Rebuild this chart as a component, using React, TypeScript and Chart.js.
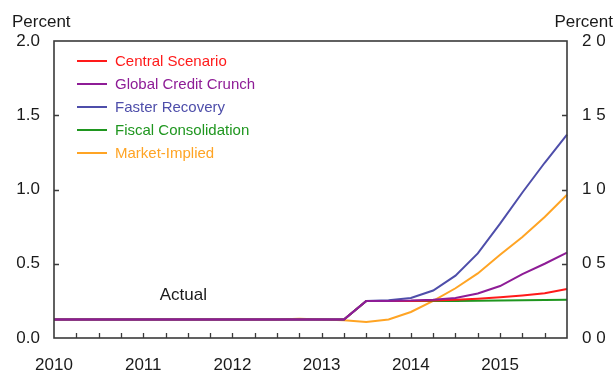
import React, { useEffect, useRef } from "react";
import { Chart, registerables } from "chart.js";

Chart.register(...registerables);

const quarters = [
  "2010Q1", "2010Q2", "2010Q3", "2010Q4",
  "2011Q1", "2011Q2", "2011Q3", "2011Q4",
  "2012Q1", "2012Q2", "2012Q3", "2012Q4",
  "2013Q1", "2013Q2", "2013Q3", "2013Q4",
  "2014Q1", "2014Q2", "2014Q3", "2014Q4",
  "2015Q1", "2015Q2", "2015Q3", "2015Q4",
];

const centralScenario = [
  0.125, 0.125, 0.125, 0.125, 0.125, 0.125, 0.125, 0.125, 0.125, 0.125, 0.125, 0.125, 0.125, 0.125,
  0.25, 0.25, 0.25, 0.252, 0.258, 0.265, 0.275, 0.287, 0.302, 0.33,
];
const globalCreditCrunch = [
  0.125, 0.125, 0.125, 0.125, 0.125, 0.125, 0.125, 0.125, 0.125, 0.125, 0.125, 0.125, 0.125, 0.125,
  0.25, 0.25, 0.252, 0.258, 0.27, 0.3, 0.35, 0.43, 0.5, 0.575,
];
const fasterRecovery = [
  0.125, 0.125, 0.125, 0.125, 0.125, 0.125, 0.125, 0.125, 0.125, 0.125, 0.125, 0.125, 0.125, 0.125,
  0.25, 0.255, 0.27, 0.32, 0.42, 0.57, 0.77, 0.98, 1.18, 1.37,
];
const fiscalConsolidation = [
  0.125, 0.125, 0.125, 0.125, 0.125, 0.125, 0.125, 0.125, 0.125, 0.125, 0.125, 0.125, 0.125, 0.125,
  0.25, 0.25, 0.25, 0.25, 0.25, 0.251, 0.252, 0.254, 0.256, 0.258,
];
const marketImplied = [
  0.125, 0.125, 0.125, 0.125, 0.125, 0.125, 0.125, 0.125, 0.125, 0.125, 0.125, 0.13, 0.125, 0.12,
  0.108, 0.125, 0.175, 0.25, 0.335, 0.435, 0.56, 0.68, 0.815, 0.965,
];

const seriesNames = [
  "Central Scenario",
  "Global Credit Crunch",
  "Faster Recovery",
  "Fiscal Consolidation",
  "Market-Implied",
];
const seriesColors = ["#ff1a1a", "#8e1c96", "#4e4eaa", "#1f961f", "#ffa424"];
const seriesOrder = [2, 0, 1, 3, 4];
const yTicks = [0, 0.5, 1.0, 1.5, 2.0];

const FONT = "'Liberation Sans', Arial, sans-serif";
const TEXT = "#1a1a1a";
const AXIS = "#3a3a3a";

const decorPlugin = {
  id: "decor",
  afterDatasetsDraw(chart: any) {
    const { ctx, chartArea, scales } = chart;
    const { left, right, top, bottom } = chartArea;
    ctx.save();
    // frame
    ctx.strokeStyle = AXIS;
    ctx.lineWidth = 1.6;
    ctx.strokeRect(left, top, right - left, bottom - top);
    // inner ticks
    ctx.lineWidth = 1.3;
    ctx.beginPath();
    for (let i = 1; i < quarters.length - 1; i++) {
      const x = Math.round(scales.x.getPixelForValue(i)) + 0.5;
      ctx.moveTo(x, bottom);
      ctx.lineTo(x, bottom - 5);
    }
    for (const v of yTicks.slice(1, -1)) {
      const y = Math.round(scales.y.getPixelForValue(v)) + 0.5;
      ctx.moveTo(left, y);
      ctx.lineTo(left + 5, y);
      ctx.moveTo(right, y);
      ctx.lineTo(right - 5, y);
    }
    ctx.stroke();

    // Percent labels
    ctx.fillStyle = TEXT;
    ctx.font = `17px ${FONT}`;
    ctx.textBaseline = "alphabetic";
    ctx.textAlign = "left";
    ctx.fillText("Percent", 12, 27);
    ctx.textAlign = "right";
    ctx.fillText("Percent", 613, 27);

    // Actual label
    ctx.textAlign = "center";
    ctx.textBaseline = "middle";
    ctx.fillText("Actual", scales.x.getPixelForValue(5.8), scales.y.getPixelForValue(0.285));

    // Legend
    ctx.font = `15px ${FONT}`;
    ctx.textAlign = "left";
    chart.data.datasets.forEach((ds: any, i: number) => {
      const y = 61 + i * 23;
      ctx.strokeStyle = ds.borderColor;
      ctx.lineWidth = 2;
      ctx.beginPath();
      ctx.moveTo(77, y);
      ctx.lineTo(107, y);
      ctx.stroke();
      ctx.fillStyle = ds.borderColor;
      ctx.fillText(ds.label, 115, y + 1);
    });
    ctx.restore();
  },
};

export default function App() {
  const ref = useRef<HTMLCanvasElement | null>(null);
  useEffect(() => {
    if (!ref.current) return;
    const series = [centralScenario, globalCreditCrunch, fasterRecovery, fiscalConsolidation, marketImplied];
    const chart = new Chart(ref.current, {
      type: "line",
      data: {
        labels: quarters,
        datasets: series.map((d, i) => ({
          label: seriesNames[i],
          data: d,
          borderColor: seriesColors[i],
          backgroundColor: seriesColors[i],
          borderWidth: 2,
          pointRadius: 0,
          tension: 0,
          fill: false,
          order: seriesOrder[i],
        })),
      },
      options: {
        responsive: false,
        animation: false,
        layout: { padding: { top: 41, left: 0, right: 0, bottom: 0 } },
        plugins: { legend: { display: false }, tooltip: { enabled: false } },
        scales: {
          x: {
            type: "category",
            offset: false,
            grid: { display: false, drawTicks: false },
            border: { display: false },
            ticks: {
              autoSkip: false,
              maxRotation: 0,
              padding: 17,
              color: TEXT,
              font: { family: FONT, size: 17 },
              callback: (_v: any, idx: number) => (idx % 4 === 0 ? quarters[idx].slice(0, 4) : ""),
            },
            afterFit: (s: any) => { s.height = 40; },
          },
          y: {
            position: "left",
            min: 0,
            max: 2,
            grid: { display: false, drawTicks: false },
            border: { display: false },
            ticks: {
              stepSize: 0.5,
              padding: 14,
              color: TEXT,
              font: { family: FONT, size: 17 },
              callback: (v: any) => Number(v).toFixed(1),
            },
            afterFit: (s: any) => { s.width = 54; },
          },
          y2: {
            position: "right",
            min: 0,
            max: 2,
            grid: { display: false, drawTicks: false },
            border: { display: false },
            ticks: {
              stepSize: 0.5,
              padding: 15,
              color: TEXT,
              font: { family: FONT, size: 17 },
              callback: (v: any) => Number(v).toFixed(1).replace(".", " "),
            },
            afterFit: (s: any) => { s.width = 48; },
          },
        },
      },
      plugins: [decorPlugin],
    });
    return () => chart.destroy();
  }, []);
  return (
    <div style={{ position: "absolute", left: 0, top: 0, width: 615, height: 378, background: "#fff" }}>
      <canvas ref={ref} width={615} height={378} style={{ display: "block" }} />
    </div>
  );
}
